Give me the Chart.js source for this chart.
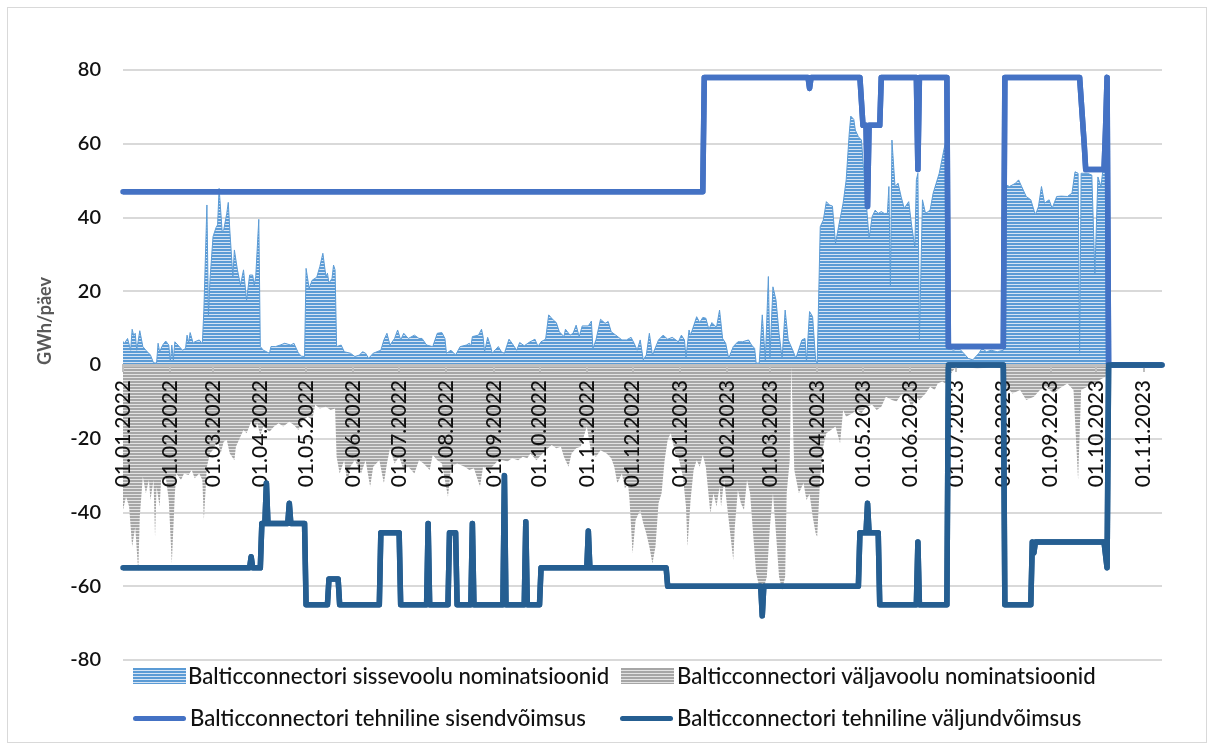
<!DOCTYPE html>
<html>
<head>
<meta charset="utf-8">
<script src="https://cdn.jsdelivr.net/npm/chart.js@4.4.1/dist/chart.umd.min.js"></script>
<style>
  html, body { margin: 0; padding: 0; background: #fff; }
  #wrap { position: relative; width: 1213px; height: 749px; overflow: hidden; }
  #frame { position: absolute; left: 7px; top: 7px; width: 1200px; height: 736px; border: 1px solid #d9d9d9; box-sizing: border-box; }
  #chart { position: absolute; left: 0; top: 0; }
  .leg { position: absolute; font-family: Lato, sans-serif; font-weight: 500; font-size: 22.2px; color: #111; line-height: 26px; white-space: nowrap; }
  .ico { position: absolute; width: 53px; }
  .ico.inb { height: 16px; background: repeating-linear-gradient(#5b9bd5 0 2px, #d6e4f4 2px 3px); }
  .ico.outb { height: 16px; background: repeating-linear-gradient(#a6a6a6 0 2px, #e3e3e3 2px 3px); }
  .ico.l1 { height: 5px; border-radius: 3px; background: #4472c4; }
  .ico.l2 { height: 5px; border-radius: 3px; background: #255e91; }
</style>
</head>
<body>
<div id="wrap">
  <div id="frame"></div>
  <canvas id="chart" width="1213" height="749"></canvas>
  <div class="ico inb" style="left:133px;top:668px"></div>
  <div class="leg" style="left:188px;top:663px">Balticconnectori sissevoolu nominatsioonid</div>
  <div class="ico outb" style="left:621px;top:668px"></div>
  <div class="leg" style="left:677px;top:663px">Balticconnectori väljavoolu nominatsioonid</div>
  <div class="ico l1" style="left:133px;top:716px"></div>
  <div class="leg" style="left:190px;top:705px">Balticconnectori tehniline sisendvõimsus</div>
  <div class="ico l2" style="left:620px;top:716px"></div>
  <div class="leg" style="left:677px;top:705px">Balticconnectori tehniline väljundvõimsus</div>
</div>
<script>
// x = days since 01.01.2022
const tickDays = [0, 31, 59, 90, 120, 151, 181, 212, 243, 273, 304, 334,
  365, 396, 424, 455, 485, 516, 546, 577, 608, 638, 669];
const tickLabels = ["01.01.2022", "01.02.2022", "01.03.2022", "01.04.2022", "01.05.2022", "01.06.2022",
  "01.07.2022", "01.08.2022", "01.09.2022", "01.10.2022", "01.11.2022", "01.12.2022",
  "01.01.2023", "01.02.2023", "01.03.2023", "01.04.2023", "01.05.2023", "01.06.2023",
  "01.07.2023", "01.08.2023", "01.09.2023", "01.10.2023", "01.11.2023"];
const lastDay = 681;

const seriesNames = [
  "Balticconnectori sissevoolu nominatsioonid",
  "Balticconnectori väljavoolu nominatsioonid",
  "Balticconnectori tehniline sisendvõimsus",
  "Balticconnectori tehniline väljundvõimsus"
];
const yTitle = "GWh/päev";

// [day, GWh/päev]
const inflowNom = [
  [0,6.3],[1,5.9],[3,7.2],[5,4],[6,9.7],[7,8],[8,8.6],[9,4],[11,9.3],[13,5],[15,4],[18,2.7],[20,0.6],[22,0.5],
  [23,5.9],[24,3.6],[26,5.4],[28,6.5],[30,5.4],[31,0.9],[32,5.4],[33,1.4],[34,6.3],[36,5.4],[39,4],[41,4.5],
  [42,8.1],[43,5.9],[44,8.8],[46,5.9],[47,6.3],[50,6.8],[52,5.7],[53,14.9],[55,43.4],[56,13.6],[57,23],[59,34.8],
  [61,37.3],[62,38],[63,47.9],[65,36.2],[66,36.6],[68,41.1],[69,44.1],[70,36.6],[72,24],[73,31.2],[75,25.8],
  [77,21.7],[79,25.8],[80,21.7],[81,17.6],[83,24.4],[85,24.4],[86,21.7],[87,24],[89,39.5],[90,5],[92,4],[96,3.2],
  [97,5],[100,5],[103,5.4],[106,5.9],[110,5.4],[112,5.9],[115,3.2],[117,2.4],[119,2.3],[120,26.2],[122,20.8],
  [124,23],[127,23.8],[129,26.7],[131,30.3],[133,24],[134,24.9],[135,22.2],[137,23.5],[138,27.1],[139,25.8],
  [140,5],[143,5.4],[145,3.6],[149,3.2],[152,2.3],[155,2.7],[157,3.6],[159,3.2],[161,1.8],[164,3.2],[169,4],
  [171,6.8],[173,8.6],[175,5.4],[178,7.2],[180,9.5],[182,6.8],[184,8.6],[187,7.2],[191,8.1],[194,7.2],[196,7.2],
  [199,5.4],[203,5],[206,8.6],[209,8.8],[211,7.2],[212,3.2],[215,4],[218,2.7],[221,5],[225,5.4],[227,5.9],
  [228,5],[229,7.7],[233,8.1],[235,9.7],[236,7.7],[237,3.6],[239,7.5],[241,5],[242,3.2],[246,5],[248,3.6],
  [250,3.2],[253,7],[255,5.9],[258,4],[260,6.1],[263,5.2],[266,6.1],[270,7],[272,5],[274,6.3],[277,7],[279,13.6],
  [282,12.2],[284,11.5],[286,9],[289,7.7],[290,9.7],[293,8.1],[295,8.6],[297,10.8],[299,7.7],[301,10.6],
  [305,10.6],[307,11.9],[308,4.5],[310,6.8],[313,12.4],[316,11.3],[318,11.8],[320,9],[323,8.1],[327,6.8],
  [330,6.8],[333,7.5],[335,5.9],[337,4],[339,6.8],[341,1.4],[343,2.7],[345,8.6],[347,2.7],[351,6.8],[354,8.1],
  [357,7],[360,7.5],[364,6.3],[366,8.1],[368,6.8],[369,2.1],[371,9.5],[372,8.1],[376,13.1],[378,11.5],
  [380,12.9],[382,12.7],[384,9.7],[386,11.5],[389,10.2],[391,14.9],[393,7.2],[395,5.9],[397,1.8],[400,5],
  [403,6.3],[406,6.3],[410,6.8],[412,5.4],[414,4.5],[415,0.5],[417,0.5],[419,13.6],[421,1.4],[423,24],
  [424,1.8],[426,21.2],[428,17.6],[430,8.6],[432,1.8],[434,14.9],[436,6.8],[439,4],[441,1.8],[445,6.8],
  [447,7.2],[448,0.9],[450,14.5],[452,13.1],[454,1.4],[455,0.5],[457,37.5],[459,39.3],[461,44.3],[463,43.4],
  [465,43.1],[467,33],[469,37.5],[472,43.9],[474,50.2],[476,62.8],[477,67.5],[479,66.6],[480,63.7],[482,61.9],
  [484,61],[485,55.6],[487,44.8],[489,34.4],[491,40.2],[493,42],[495,41.1],[497,41.6],[499,41.1],[501,41.1],
  [502,48.4],[503,21.2],[504,61],[506,48.4],[508,49.3],[510,45.7],[512,42.5],[515,44.3],[517,37.5],[519,32.1],
  [520,50.2],[521,52],[522,6.8],[524,44.8],[526,41.1],[529,42],[531,46.6],[533,49.3],[535,52],[538,58.3],
  [540,61.9],[541,5],[544,4],[548,4.5],[551,3.2],[554,1.8],[557,1.4],[561,3.2],[563,4.5],[566,3.6],[569,4],
  [573,3.6],[577,4],[579,48.8],[581,48.4],[585,49.3],[587,50.2],[589,48.4],[592,45.7],[595,44.8],[598,40.7],
  [600,42.9],[602,48.4],[604,43.9],[607,44.8],[609,42.5],[612,45.7],[615,45.8],[619,45.7],[622,46.6],
  [624,52.4],[626,52],[627,3.2],[628,52],[632,52],[635,51.5],[637,24.9],[639,51],[641,48.4],[644,59.2],
  [645,0],[681,0]
];

const outflowNom = [
  [0,-39.3],[2,-35.7],[4,-38.4],[6,-49.3],[8,-43.9],[10,-56],[11,-41.1],[13,-30.3],[15,-34.8],[17,-31.2],
  [18,-36.6],[20,-31.2],[21,-46.6],[22,-33],[24,-38.4],[25,-31.2],[28,-30.3],[30,-36.6],[32,-53.8],[34,-34.8],
  [35,-29.4],[38,-31.2],[40,-29.4],[43,-29.8],[45,-28.5],[47,-30.7],[50,-29.4],[52,-31.2],[53,-42],[55,-27.6],
  [57,-24],[59,-23],[62,-20.3],[64,-24],[66,-20.8],[68,-20.3],[70,-24],[73,-25.8],[74,-22.2],[77,-19.4],
  [79,-17.6],[81,-18.5],[84,-15.4],[86,-17.2],[88,-15.8],[90,-19],[92,-16.7],[96,-18.1],[99,-16.7],
  [102,-15.8],[105,-16.7],[109,-15.4],[112,-16.3],[115,-17.6],[117,-15.4],[121,-14],[124,-14.9],[126,-10.8],
  [129,-11.8],[133,-11.3],[136,-12.2],[139,-11.8],[140,-24.9],[142,-29.4],[145,-25.8],[147,-32.1],[149,-27.6],
  [152,-25.8],[156,-29.4],[159,-25.8],[162,-33],[164,-27.6],[168,-25.8],[171,-32.1],[173,-26.7],[175,-22.6],
  [178,-26.7],[181,-24.9],[184,-28.5],[187,-27.6],[191,-29.4],[194,-25.8],[197,-26.7],[201,-28.5],[203,-24.4],
  [206,-25.8],[209,-26.7],[213,-35.7],[215,-27.6],[219,-26.7],[224,-27.6],[227,-28.5],[230,-28],[234,-33],
  [236,-27.6],[239,-28.5],[242,-27.6],[246,-25.8],[249,-25.8],[252,-26.2],[255,-25.3],[259,-25.8],[262,-24.9],
  [265,-25.3],[267,-24],[271,-25.8],[274,-24.4],[277,-23.1],[281,-21.7],[284,-22.6],[287,-22.2],[289,-24.9],
  [292,-27.6],[294,-24],[297,-22.6],[300,-22.2],[304,-16.7],[307,-24],[310,-24.9],[313,-23.1],[317,-24],
  [320,-25.3],[322,-27.6],[324,-32.1],[327,-29.4],[329,-33.5],[331,-32.1],[332,-36.6],[334,-51.1],[336,-42],
  [339,-39.3],[341,-42.9],[343,-45.7],[345,-49.3],[347,-53.8],[349,-49.3],[351,-37.5],[353,-34.8],[355,-25.8],
  [357,-20.3],[359,-18.5],[362,-24],[364,-24.9],[367,-30.3],[369,-38.4],[370,-49.3],[372,-36.6],[374,-28.5],
  [376,-25.8],[378,-27.6],[380,-24.4],[382,-27.6],[385,-40.2],[387,-34.8],[389,-38.4],[391,-33],[392,-38.4],
  [394,-31.2],[397,-42],[399,-49.3],[400,-52.9],[401,-43.9],[403,-33.9],[405,-37.5],[407,-39.3],[409,-31.2],
  [411,-34.8],[413,-45.7],[415,-56.5],[417,-60.1],[419,-61.9],[422,-57.4],[424,-43.9],[426,-34.8],[428,-45.7],
  [430,-57.4],[432,-61],[434,-57.4],[435,-34.8],[437,-25.8],[438,-0.5],[440,-28.5],[443,-34.8],[446,-32],
  [448,-36.6],[450,-35],[452,-41],[454,-45.7],[455,-46.6],[457,-30],[459,-22],[461,-18.5],[464,-17.6],
  [467,-16.7],[470,-21.2],[472,-12.2],[474,-14],[478,-13.1],[481,-12.2],[484,-13.1],[487,-11.3],[491,-10.8],
  [494,-12.2],[497,-11.3],[500,-8.6],[504,-9.5],[507,-9.9],[510,-8.1],[514,-7.7],[517,-12.2],[519,-8.6],
  [522,-9.5],[526,-7.7],[529,-5.9],[532,-6.8],[534,-5],[537,-4.5],[539,-5],[541,-3.2],[545,-1],[552,-0.5],
  [560,-1],[570,-0.5],[577,-1],[579,-5.9],[583,-7.7],[588,-6.8],[592,-9.5],[597,-8.6],[601,-6.8],[605,-5.9],
  [610,-7.7],[614,-6.3],[619,-5],[623,-6.8],[626,-31.2],[628,-6.8],[632,-5.9],[636,-5],[640,-4.1],[644,-3.2],
  [645,0],[681,0]
];

const inflowCap = [
  [0,47],[380,47],[381,78],[449,78],[450,75],[451,78],[483,78],[485,65],[487,65],[488,43],[489,65],[496,65],
  [497,78],[520,78],[521,53],[522,78],[540,78],[541,5],[577,5],[578,78],[627,78],[630,60],[631,53],[643,53],
  [644,64],[645,78],[646,0],[681,0]
];

const outflowCap = [
  [0,-55],[83,-55],[84,-52],[85,-55],[90,-55],[91,-43],[93,-43],[94,-32],[95,-43],[108,-43],[109,-37.5],
  [110,-43],[119,-43],[120,-65],[134,-65],[135,-58],[141,-58],[142,-65],[168,-65],[169,-45.5],[181,-45.5],
  [182,-65],[199,-65],[200,-43],[201,-65],[213,-65],[214,-45.5],[218,-45.5],[219,-65],[228,-65],[229,-43],
  [230,-65],[249,-65],[250,-30],[251,-65],[263,-65],[264,-42.5],[265,-65],[273,-65],[274,-55],[304,-55],
  [305,-45],[306,-55],[356,-55],[357,-60],[418,-60],[419,-68],[420,-60],[482,-60],[483,-45.5],[487,-45.5],
  [488,-37.5],[489,-45.5],[495,-45.5],[496,-65],[520,-65],[521,-48],[522,-65],[540,-65],[541,0],[577,0],
  [578,-65],[595,-65],[596,-48],[597,-51],[598,-48],[643,-48],[645,-55],[646,0],[681,0]
];

const toXY = (arr) => arr.map(([x, y]) => ({ x, y }));

function stripes(c1, c2) {
  const p = document.createElement("canvas");
  p.width = 4; p.height = 3;
  const g = p.getContext("2d");
  g.fillStyle = c1; g.fillRect(0, 0, 4, 2);
  g.fillStyle = c2; g.fillRect(0, 2, 4, 1);
  return g.createPattern(p, "repeat");
}

// y title off-centre like the original, and capacity lines redrawn above the date labels
const extrasPlugin = {
  id: "extrasPlugin",
  afterDraw(chart) {
    const c = chart.ctx;
    c.save();
    c.beginPath();
    c.rect(chart.chartArea.left - 4, chart.chartArea.top - 4, chart.chartArea.width + 8, chart.chartArea.height + 8);
    c.clip();
    chart.getDatasetMeta(2).controller.draw();
    chart.getDatasetMeta(3).controller.draw();
    c.restore();

    c.save();
    c.translate(45, 321);
    c.rotate(-Math.PI / 2);
    c.font = "bold 18px Lato";
    c.fillStyle = "#595959";
    c.textAlign = "center";
    c.textBaseline = "middle";
    c.fillText(yTitle, 0, 0);
    c.restore();
  }
};

const ctx = document.getElementById("chart").getContext("2d");

new Chart(ctx, {
  type: "line",
  data: {
    datasets: [
      {
        label: seriesNames[0],
        data: toXY(inflowNom),
        borderColor: "#5b9bd5",
        borderWidth: 1,
        backgroundColor: stripes("#5b9bd5", "#d6e4f4"),
        fill: "origin",
        order: 3,
      },
      {
        label: seriesNames[1],
        data: toXY(outflowNom),
        borderColor: "#a6a6a6",
        borderWidth: 0,
        backgroundColor: stripes("#a6a6a6", "#e3e3e3"),
        fill: "origin",
        order: 2,
      },
      {
        label: seriesNames[2],
        data: toXY(inflowCap),
        borderColor: "#4472c4",
        borderWidth: 5.5,
        fill: false,
        order: 1,
      },
      {
        label: seriesNames[3],
        data: toXY(outflowCap),
        borderColor: "#255e91",
        borderWidth: 5.5,
        fill: false,
        order: 0,
      },
    ],
  },
  options: {
    responsive: false,
    animation: false,
    devicePixelRatio: 1,
    layout: { padding: { top: 70, bottom: 89, left: 0, right: 51 } },
    elements: {
      point: { radius: 0, hoverRadius: 0 },
      line: { tension: 0, borderJoinStyle: "round", borderCapStyle: "round" },
    },
    plugins: {
      legend: { display: false },
      tooltip: { enabled: false },
    },
    scales: {
      x: {
        type: "linear",
        min: 0,
        max: lastDay,
        position: { y: 0 },
        afterBuildTicks: (scale) => { scale.ticks = tickDays.map((v) => ({ value: v })); },
        ticks: {
          z: 1,
          autoSkip: false,
          minRotation: 90,
          maxRotation: 90,
          padding: 10,
          color: "#111",
          font: { family: "Lato", size: 21, weight: 500 },
          callback: (v) => tickLabels[tickDays.indexOf(v)],
        },
        grid: { z: 1, drawOnChartArea: false, drawTicks: true, tickLength: 5, color: "#bfbfbf", lineWidth: 2 },
        border: { z: 1, display: true, color: "#bfbfbf", width: 3 },
      },
      y: {
        min: -80,
        max: 80,
        afterFit: (scale) => { scale.width = 123; },
        ticks: {
          stepSize: 20,
          padding: 22,
          color: "#111",
          font: { family: "Lato", size: 20, weight: 600 },
        },
        grid: {
          drawTicks: false,
          color: (c) => (c.tick && c.tick.value === 0 ? "#bfbfbf" : "#d9d9d9"),
          lineWidth: 2,
        },
        border: { display: false },
      },
    },
  },
  plugins: [extrasPlugin],
});
</script>
</body>
</html>
